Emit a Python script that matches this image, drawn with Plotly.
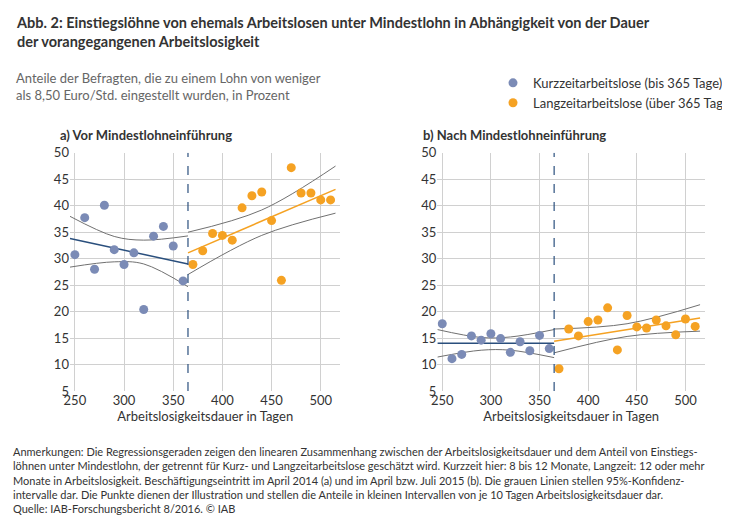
import plotly.graph_objects as go

x_short = [250, 260, 270, 280, 290, 300, 310, 320, 330, 340, 350, 360]
x_long = [370, 380, 390, 400, 410, 420, 430, 440, 450, 460, 470, 480, 490, 500, 510]
a_short = [30.75, 37.75, 28.0, 40.1, 31.7, 28.9, 31.1, 20.4, 34.25, 36.1, 32.4, 25.8]
a_long = [28.9, 31.5, 34.75, 34.4, 33.5, 39.6, 41.9, 42.6, 37.2, 25.9, 47.2, 42.4, 42.4, 41.1, 41.1]
b_short = [17.7, 11.1, 11.9, 15.4, 14.6, 15.8, 14.9, 12.3, 14.3, 12.6, 15.5, 13.0]
b_long = [9.2, 16.7, 15.4, 18.1, 18.4, 20.7, 12.75, 19.25, 17.1, 16.9, 18.4, 17.3, 15.6, 18.6, 17.2]

# regression lines and confidence bands
fit_x_short = [245, 290, 320, 365]
fit_x_long = [365, 440, 515]
a_fit_short = [33.8, 32.0, 30.8, 29.0]
a_up_short = [38.0, 34.2, 33.5, 34.3]
a_lo_short = [28.4, 29.4, 29.0, 24.7]
a_fit_long = [31.1, 37.1, 43.1]
a_up_long = [35.0, 39.2, 47.5]
a_lo_long = [27.0, 34.4, 38.6]
b_fit_short = [14.0, 14.0, 14.0, 14.0]
b_up_short = [16.6, 15.1, 15.2, 16.6]
b_lo_short = [11.4, 12.7, 12.7, 11.3]
b_fit_long = [14.4, 16.6, 18.8]
b_up_long = [16.7, 17.7, 21.3]
b_lo_long = [12.2, 15.3, 16.3]

BLUE = "#7b8bb6"
ORANGE = "#f5a223"
DARKBLUE = "#2a4f7d"

fig = go.Figure()
panels = [("x", "y", a_short, a_long, a_fit_short, a_up_short, a_lo_short, a_fit_long, a_up_long, a_lo_long),
          ("x2", "y2", b_short, b_long, b_fit_short, b_up_short, b_lo_short, b_fit_long, b_up_long, b_lo_long)]
for i, (xa, ya, s, l, fs, us, ls, fl, ul, ll) in enumerate(panels):
    for yy in (us, ls):
        fig.add_trace(go.Scatter(x=fit_x_short, y=yy, mode="lines", line=dict(color="#707070", width=1, shape="spline"),
                                 xaxis=xa, yaxis=ya, showlegend=False))
    for yy in (ul, ll):
        fig.add_trace(go.Scatter(x=fit_x_long, y=yy, mode="lines", line=dict(color="#707070", width=1, shape="spline"),
                                 xaxis=xa, yaxis=ya, showlegend=False))
    fig.add_trace(go.Scatter(x=fit_x_short, y=fs, mode="lines", line=dict(color=DARKBLUE, width=1.5),
                             xaxis=xa, yaxis=ya, showlegend=False))
    fig.add_trace(go.Scatter(x=fit_x_long, y=fl, mode="lines", line=dict(color=ORANGE, width=1.5),
                             xaxis=xa, yaxis=ya, showlegend=False))
    fig.add_trace(go.Scatter(x=x_short, y=s, mode="markers", marker=dict(color=BLUE, size=9),
                             name="Kurzzeitarbeitslose (bis 365 Tage)", showlegend=(i == 0), xaxis=xa, yaxis=ya))
    fig.add_trace(go.Scatter(x=x_long, y=l, mode="markers", marker=dict(color=ORANGE, size=9),
                             name="Langzeitarbeitslose (über 365 Tage)", showlegend=(i == 0), xaxis=xa, yaxis=ya))
    fig.add_shape(type="line", x0=365, x1=365, y0=5, y1=50, xref=xa, yref=ya,
                  line=dict(color=DARKBLUE, width=1.2, dash="dash"))

ax = dict(range=[245, 520], tickvals=[250, 300, 350, 400, 450, 500], showgrid=True, gridcolor="#d0d0d0",
          zeroline=False, tickfont=dict(size=13, color="#333"), ticks="", automargin=False,
          title=dict(text="Arbeitslosigkeitsdauer in Tagen", font=dict(size=13, color="#333"), standoff=4))
ay = dict(range=[5, 50], dtick=5, showgrid=True, gridcolor="#d0d0d0", zeroline=False,
          tickfont=dict(size=13, color="#333"), ticks="", automargin=False)
fig.update_layout(
    width=730, height=521, margin=dict(l=0, r=0, t=0, b=0), autosize=False,
    plot_bgcolor="white", paper_bgcolor="white",
    font=dict(family="Lato", color="#333"),
    xaxis=dict(ax, domain=[0.085, 0.456], anchor="y"),
    yaxis=dict(ay, domain=[0.265, 0.722], anchor="x"),
    xaxis2=dict(ax, domain=[0.589, 0.956], anchor="y2"),
    yaxis2=dict(ay, domain=[0.265, 0.722], anchor="x2"),
    legend=dict(x=0.665, y=0.885, xanchor="left", yanchor="top", font=dict(size=13, color="#333"),
                itemwidth=30, tracegroupgap=0, bgcolor="rgba(0,0,0,0)"),
)
ann = [
    dict(x=0.008, y=0.992, text="<b>Abb. 2: Einstiegslöhne von ehemals Arbeitslosen unter Mindestlohn in Abhängigkeit von der Dauer<br>der vorangegangenen Arbeitslosigkeit</b>",
         font=dict(size=14.5, color="#333"), align="left"),
    dict(x=0.008, y=0.885, text="Anteile der Befragten, die zu einem Lohn von weniger<br>als 8,50 Euro/Std. eingestellt wurden, in Prozent",
         font=dict(size=13, color="#666"), align="left"),
    dict(x=0.068, y=0.775, text="<b>a) Vor Mindestlohneinführung</b>", font=dict(size=13, color="#333")),
    dict(x=0.566, y=0.775, text="<b>b) Nach Mindestlohneinführung</b>", font=dict(size=13, color="#333")),
    dict(x=0.004, y=0.165, text="Anmerkungen: Die Regressionsgeraden zeigen den linearen Zusammenhang zwischen der Arbeitslosigkeitsdauer und dem Anteil von Einstiegs-<br>"
         "löhnen unter Mindestlohn, der getrennt für Kurz- und Langzeitarbeitslose geschätzt wird. Kurzzeit hier: 8 bis 12 Monate, Langzeit: 12 oder mehr<br>"
         "Monate in Arbeitslosigkeit. Beschäftigungseintritt im April 2014 (a) und im April bzw. Juli 2015 (b). Die grauen Linien stellen 95%-Konfidenz-<br>"
         "intervalle dar. Die Punkte dienen der Illustration und stellen die Anteile in kleinen Intervallen von je 10 Tagen Arbeitslosigkeitsdauer dar.<br>"
         "Quelle: IAB-Forschungsbericht 8/2016. © IAB",
         font=dict(size=11, color="#333"), align="left"),
]
for a in ann:
    fig.add_annotation(xref="paper", yref="paper", xanchor="left", yanchor="top", showarrow=False, **a)
fig.write_html("out.html")
